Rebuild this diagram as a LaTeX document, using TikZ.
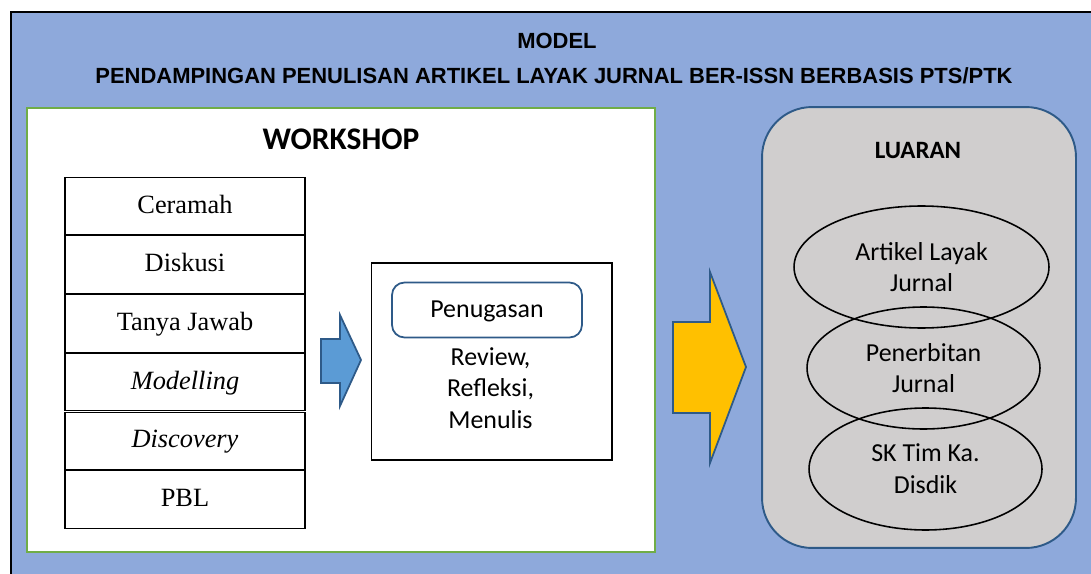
\documentclass[tikz,border=0pt]{standalone}
\usepackage{fontspec}
\setmainfont{Liberation Serif}
\newfontfamily\calibri{Carlito}
\newfontfamily\arial{Liberation Sans}
\usetikzlibrary{shapes.geometric}
\definecolor{latar}{HTML}{8EA9DB}
\definecolor{hijau}{HTML}{70AD47}
\definecolor{biru}{HTML}{5B9BD5}
\definecolor{birutua}{HTML}{2E5A88}
\definecolor{kuning}{HTML}{FFC000}
\definecolor{abu}{HTML}{D0CECE}

\begin{document}
\begin{tikzpicture}[x=0.02cm,y=-0.02cm,
  every node/.style={inner sep=0pt},
  judul/.style={font=\arial\bfseries\fontsize{12.5}{14}\selectfont, anchor=base},
  metode/.style={draw, line width=0.6pt, fill=white, minimum width=4.8cm, minimum height=1.15cm,
    text height=11pt, text depth=3pt, font=\fontsize{15}{18}\selectfont},
  teks/.style={font=\calibri\fontsize{14.75}{18.1}\selectfont, align=center},
  hasil/.style={teks, ellipse, draw, line width=0.9pt, minimum height=2.44cm},
  panah/.style={draw=birutua, line width=1pt, line join=miter}]
  \useasboundingbox (0,0) rectangle (1091,574);
  \draw[fill=latar, line width=0.7pt] (11,12) rectangle (1100,590);
  \node[judul] (model) at (557,49) {MODEL};
  \node[judul] (subjudul) at (554,84) {PENDAMPINGAN PENULISAN ARTIKEL LAYAK JURNAL BER-ISSN BERBASIS PTS/PTK};

  % workshop
  \draw[draw=hijau, fill=white, line width=1.4pt] (27,108) rectangle (655,552);
  \node[anchor=base, font=\calibri\bfseries\fontsize{17.9}{20}\selectfont] (workshop) at (341,150) {WORKSHOP};
  \foreach \lbl [count=\i from 0] in {Ceramah, Diskusi, Tanya Jawab, \textit{Modelling}, \textit{Discovery}, PBL}
    \node[metode] (m\i) at (185,{206+58.7*\i}) {\lbl};

  \draw[panah, fill=biru] (321,339) -- (340,339) -- (340,315) -- (361,360) -- (340,406)
    -- (340,383) -- (321,383) -- cycle;
  \node[draw, line width=0.6pt, fill=white, minimum width=4.82cm, minimum height=3.94cm] (tugasbox) at (491.5,361.5) {};
  \node[teks, draw=birutua, line width=1pt, rounded corners=0.25cm, minimum width=3.8cm, minimum height=1.1cm,
    text height=12pt, text depth=4pt] (tugas) at (487,310) {Penugasan};
  \node[teks] (kegiatan) at (490.5,388) {Review,\\Refleksi,\\Menulis};

  \draw[panah, fill=kuning] (673,322) -- (710,322) -- (710,272) -- (746,367) -- (710,463)
    -- (710,413) -- (673,413) -- cycle;

  % luaran
  \node[draw=birutua, fill=abu, line width=1.1pt, rounded corners=1cm, minimum width=6.28cm, minimum height=8.82cm] (luaran) at (919,327.5) {};
  \node[anchor=base, font=\calibri\bfseries\fontsize{14.2}{16}\selectfont] (judulluaran) at (918,159) {LUARAN};
  \node[hasil, minimum width=5.1cm] (artikel) at (921.5,267) {Artikel Layak\\Jurnal};
  \node[hasil, minimum width=4.66cm] (terbit) at (923.5,368) {Penerbitan\\Jurnal};
  \node[hasil, minimum width=4.66cm] (sk) at (925.5,469) {SK Tim Ka.\\Disdik};
\end{tikzpicture}
\end{document}
